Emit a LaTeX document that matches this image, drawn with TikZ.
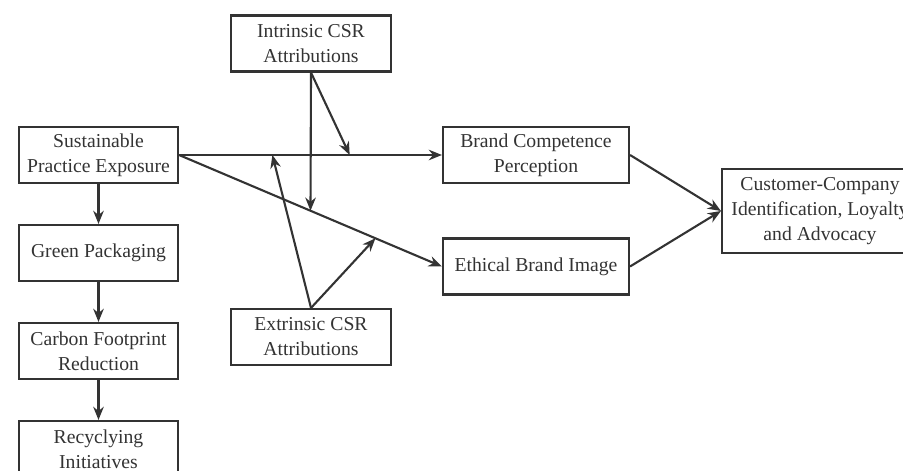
\documentclass[tikz,border=0pt]{standalone}
\usepackage{fontspec}
\setmainfont{Liberation Serif}
\usetikzlibrary{arrows.meta,positioning,calc}

\begin{document}
\begin{tikzpicture}[auto, box/.style = {rectangle, draw, text = black!80, minimum width = 3.18cm, minimum height = 1.12cm, align = center, inner sep = 0pt, font = \fontsize{11.2}{14.2}\selectfont, node distance = 1.96cm}, >={Stealth[length = 7.5pt, width = 6pt]}, line width = 1.2pt, color = black!80]
	\useasboundingbox (0,0) rectangle (18.06,-9.42);

	\node[box](sus) at (1.97,-3.10){Sustainable\\Practice Exposure};
	\node[box](gre)[below of = sus]{Green Packaging};
	\node[box](car)[below of = gre]{Carbon Footprint\\Reduction};
	\node[box](rec)[below of = car]{Recyclying\\Initiatives};
	\node[box, minimum width = 3.2cm](int) at (6.22,-0.87){Intrinsic CSR\\Attributions};
	\node[box, minimum width = 3.2cm](ext) at (6.22,-6.74){Extrinsic CSR\\Attributions};
	\node[box, minimum width = 3.72cm](bcp)[right of = sus, node distance = 8.75cm]{Brand Competence\\Perception};
	\node[box, minimum width = 3.72cm](ebi)[below of = bcp, node distance = 2.23cm]{Ethical Brand Image};
	\node[box, minimum width = 3.92cm, minimum height = 1.68cm](cci) at (16.40,-4.22){Customer-Company\\Identification, Loyalty\\and Advocacy};

	% points on the two paths
	\coordinate (m1) at ($(sus.east)!0.649!(bcp.west)$);
	\coordinate (m2) at ($(sus.east)!0.355!(bcp.west)$);
	\coordinate (d1) at ($(sus.east)!0.5!(ebi.west)$);
	\coordinate (d2) at ($(sus.east)!0.747!(ebi.west)$);

	\path[->](sus) edge (gre);
	\path[->](gre) edge (car);
	\path[->](car) edge (rec);
	\path[->](sus.east) edge (bcp.west);
	\path[->](sus.east) edge (ebi.west);
	\path[->](int.south) edge (m1);
	\path[->](int.south) edge (d1);
	\path[->](ext.north) edge (m2);
	\path[->](ext.north) edge (d2);
	\path[->](bcp.east) edge (cci.west);
	\path[->](ebi.east) edge (cci.west);

\end{tikzpicture}
\end{document}
